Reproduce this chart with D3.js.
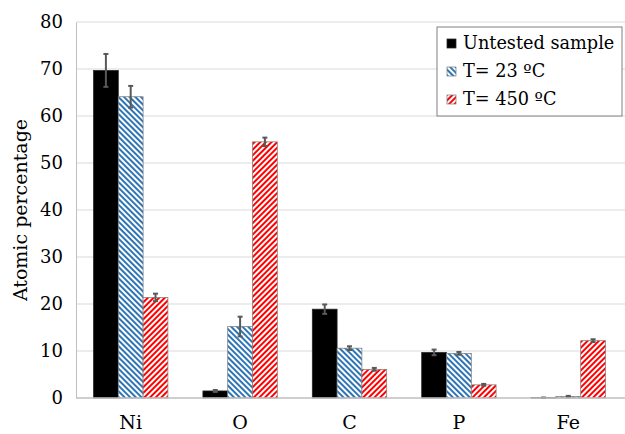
<!DOCTYPE html>
<html>
<head>
<meta charset="utf-8">
<script src="https://cdn.jsdelivr.net/npm/d3@7"></script>
<style>
  body { margin: 0; background: #fff; }
</style>
</head>
<body>
<svg id="chart"></svg>
<script>
const elements = ["Ni", "O", "C", "P", "Fe"];
const seriesNames = ["Untested sample", "T= 23 ºC", "T= 450 ºC"];
const untested = [69.7, 1.5, 18.9, 9.7, 0.05];
const untestedErr = [3.5, 0.2, 1.0, 0.6, 0.05];
const t23 = [64.1, 15.2, 10.6, 9.5, 0.3];
const t23Err = [2.3, 2.1, 0.4, 0.3, 0.15];
const t450 = [21.4, 54.5, 6.1, 2.8, 12.2];
const t450Err = [0.8, 0.9, 0.3, 0.2, 0.3];
const yTicks = [0, 10, 20, 30, 40, 50, 60, 70, 80];

const width = 625;
const height = 434;
const margin = { top: 22, right: 2, bottom: 36, left: 76 };
const serif = "DejaVu Serif";

const svg = d3.select("#chart").attr("width", width).attr("height", height);

// hatch patterns
const defs = svg.append("defs");
function hatch(id, color, dir) {
  const p = defs.append("pattern")
    .attr("id", id)
    .attr("patternUnits", "userSpaceOnUse")
    .attr("width", 4).attr("height", 4)
    .attr("patternTransform", `rotate(${dir})`);
  p.append("rect").attr("width", 4).attr("height", 4).attr("fill", "#fff");
  p.append("rect").attr("width", 2).attr("height", 4).attr("fill", color);
}
hatch("blueHatch", "#2e75b6", -45);
hatch("redHatch", "#ff0000", 45);

const fills = ["#000", "url(#blueHatch)", "url(#redHatch)"];
const strokes = ["#262626", "#7f7f7f", "#7f7f7f"];
const values = [untested, t23, t450];
const errors = [untestedErr, t23Err, t450Err];

const x = d3.scaleBand()
  .domain(elements)
  .range([margin.left, width - margin.right])
  .paddingInner(0.32)
  .paddingOuter(0.16);

const xs = d3.scaleBand()
  .domain(d3.range(3))
  .range([0, x.bandwidth()]);

const y = d3.scaleLinear()
  .domain([0, 80])
  .range([height - margin.bottom, margin.top]);

// grid
svg.append("g")
  .selectAll("line")
  .data(yTicks.slice(1))
  .join("line")
  .attr("x1", margin.left)
  .attr("x2", width)
  .attr("y1", (d) => y(d))
  .attr("y2", (d) => y(d))
  .attr("stroke", "#d9d9d9")
  .attr("stroke-width", 1);

// y axis
const yAxis = svg.append("g")
  .attr("transform", `translate(${margin.left},0)`)
  .call(d3.axisLeft(y).tickValues(yTicks).tickSize(0).tickPadding(13))
  .attr("font-family", serif);
yAxis.select(".domain").attr("stroke", "#bfbfbf");
yAxis.selectAll("text").attr("font-size", 18).attr("fill", "#000");

// bars
const groups = svg.append("g")
  .selectAll("g")
  .data(elements)
  .join("g")
  .attr("transform", (d) => `translate(${x(d)},0)`);

groups.selectAll("rect")
  .data((d, i) => values.map((v, s) => ({ s, v: v[i], e: errors[s][i] })))
  .join("rect")
  .attr("x", (d) => xs(d.s))
  .attr("width", xs.bandwidth())
  .attr("y", (d) => y(d.v))
  .attr("height", (d) => y(0) - y(d.v))
  .attr("fill", (d) => fills[d.s])
  .attr("stroke", (d) => strokes[d.s])
  .attr("stroke-width", 0.75);

// error bars
const eb = groups.selectAll("g.err")
  .data((d, i) => values.map((v, s) => ({ s, v: v[i], e: errors[s][i] })))
  .join("g")
  .attr("class", "err")
  .attr("stroke", "#595959")
  .attr("stroke-width", 2);
eb.append("line")
  .attr("x1", (d) => xs(d.s) + xs.bandwidth() / 2)
  .attr("x2", (d) => xs(d.s) + xs.bandwidth() / 2)
  .attr("y1", (d) => y(d.v + d.e))
  .attr("y2", (d) => y(Math.max(0, d.v - d.e)));
eb.selectAll("line.cap")
  .data((d) => [d.v + d.e, Math.max(0, d.v - d.e)].map((t) => ({ t, d })))
  .join("line")
  .attr("class", "cap")
  .attr("x1", (c) => xs(c.d.s) + xs.bandwidth() / 2 - 2.5)
  .attr("x2", (c) => xs(c.d.s) + xs.bandwidth() / 2 + 2.5)
  .attr("y1", (c) => y(c.t))
  .attr("y2", (c) => y(c.t));

// x axis
const xAxis = svg.append("g")
  .attr("transform", `translate(0,${y(0)})`)
  .call(d3.axisBottom(x).tickSize(0).tickPadding(18).tickSizeOuter(0))
  .attr("font-family", serif);
xAxis.select(".domain").attr("stroke", "#bfbfbf").attr("stroke-width", 1.5)
  .attr("d", `M${margin.left},0H${width}`);
xAxis.selectAll("text").attr("font-size", 19).attr("fill", "#000");

// y title
svg.append("text")
  .attr("transform", `translate(27,${(margin.top + y(0)) / 2}) rotate(-90)`)
  .attr("text-anchor", "middle")
  .attr("font-family", serif)
  .attr("font-size", 19)
  .text("Atomic percentage");

// legend
const legend = svg.append("g").attr("transform", "translate(437,27)")
  .attr("font-family", serif);
legend.append("rect")
  .attr("width", 185).attr("height", 89)
  .attr("fill", "#fff").attr("stroke", "#808080").attr("stroke-width", 1);
const rows = legend.selectAll("g")
  .data(seriesNames)
  .join("g")
  .attr("transform", (d, i) => `translate(10,${16 + i * 28})`);
rows.append("rect")
  .attr("y", -4).attr("width", 9).attr("height", 9)
  .attr("fill", (d, i) => fills[i])
  .attr("stroke", (d, i) => strokes[i]).attr("stroke-width", 0.75);
rows.append("text")
  .attr("x", 16).attr("y", 1)
  .attr("dominant-baseline", "middle")
  .attr("font-size", 17.7)
  .text((d) => d);
</script>
</body>
</html>
